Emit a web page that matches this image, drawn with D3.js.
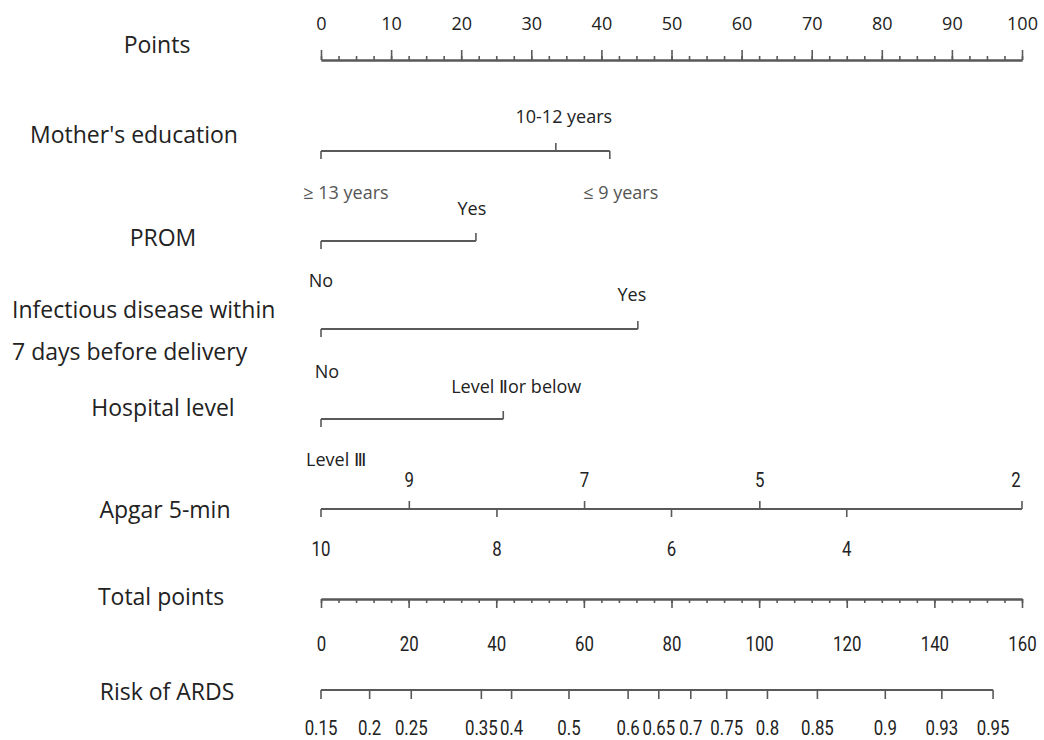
<!DOCTYPE html>
<html>
<head>
<meta charset="utf-8">
<script src="https://cdn.jsdelivr.net/npm/d3@7"></script>
<style>
  html, body { margin: 0; padding: 0; background: #fff; }
  svg { display: block; }
</style>
</head>
<body>
<svg id="chart" width="1044" height="740"></svg>
<script>
// ---------------- DATA ----------------
const pointsTickLabels = [0, 10, 20, 30, 40, 50, 60, 70, 80, 90, 100];

const motherEduLevels = ["≥ 13 years", "10-12 years", "≤ 9 years"];
const motherEduPoints = [0, 33.5, 41.2];

const promLevels = ["No", "Yes"];
const promPoints = [0, 22.1];

const infectLevels = ["No", "Yes"];
const infectPoints = [0, 45.2];

const hospitalLevels = ["Level Ⅲ", "Level Ⅱor below"];
const hospitalPoints = [0, 26.0];

const apgarValues = [10, 9, 8, 7, 6, 5, 4, 2];
const apgarPoints = [0, 12.6, 25.1, 37.6, 50.0, 62.6, 75.0, 100];

const totalTickLabels = [0, 20, 40, 60, 80, 100, 120, 140, 160];

const riskValues = [0.15, 0.2, 0.25, 0.35, 0.4, 0.5, 0.6, 0.65, 0.7, 0.75, 0.8, 0.85, 0.9, 0.93, 0.95];
const riskTotalPoints = [0, 11.1, 20.6, 36.6, 43.5, 56.6, 70.1, 77.1, 84.4, 92.6, 101.9, 113.3, 128.8, 141.7, 153.4];

const rowNames = ["Points", "Mother's education", "PROM", "Infectious disease within", "7 days before delivery",
                  "Hospital level", "Apgar 5-min", "Total points", "Risk of ARDS"];

// ---------------- LAYOUT / STYLE ----------------
const svg = d3.select("#chart");
const LINE = "#595959";
const TEXT = "#222";
const sansFont = "'Open Sans', 'Noto Sans', sans-serif";
const narrowFont = "Roboto, 'Noto Sans', sans-serif";
const NARROW_SIZE = 21;
const NARROW_SQUEEZE = "scale(0.8,1)";

const xPts = d3.scaleLinear().domain([0, 100]).range([321, 1022]);
const xTot = d3.scaleLinear().domain([0, 160]).range([321, 1022]);

// Row label layout
const rowLayout = [
  {x: 157, y: 45, anchor: "middle"},
  {x: 134, y: 135, anchor: "middle"},
  {x: 163, y: 238, anchor: "middle"},
  {x: 12, y: 310, anchor: "start"},
  {x: 12, y: 352, anchor: "start"},
  {x: 163, y: 408, anchor: "middle"},
  {x: 165, y: 510, anchor: "middle"},
  {x: 161, y: 597, anchor: "middle"},
  {x: 167, y: 692, anchor: "middle"}
];
svg.append("g").selectAll("text").data(rowNames).join("text")
  .attr("x", (d, i) => rowLayout[i].x)
  .attr("y", (d, i) => rowLayout[i].y)
  .attr("dy", "0.35em")
  .attr("text-anchor", (d, i) => rowLayout[i].anchor)
  .attr("font-family", sansFont)
  .attr("font-size", 23)
  .attr("fill", TEXT)
  .text(d => d);

// ---------- Points axis ----------
function styleAxis(g) {
  g.select(".domain").attr("stroke", LINE).attr("stroke-width", 2);
  g.selectAll(".tick line").attr("stroke", LINE).attr("stroke-width", 1.6);
}
const yPts = 60;
const minorPts = d3.range(0, 100.01, 2.5);
svg.append("g").attr("transform", `translate(0,${yPts})`)
  .call(d3.axisTop(xPts).tickValues(minorPts).tickSize(4).tickSizeOuter(0).tickFormat(""))
  .call(styleAxis);
const gPts = svg.append("g").attr("transform", `translate(0,${yPts})`)
  .call(d3.axisTop(xPts).tickValues(pointsTickLabels).tickSize(10).tickSizeOuter(0).tickPadding(20))
  .call(styleAxis);
gPts.selectAll(".tick text").attr("font-family", sansFont).attr("font-size", 18).attr("fill", TEXT);

// ---------- categorical rows ----------
// sides: -1 = label above (tick up), +1 = label below (tick down)
function catRow(y, pts, labels, sides, offsets, opts) {
  const g = svg.append("g");
  g.append("line")
    .attr("x1", xPts(d3.min(pts))).attr("x2", xPts(d3.max(pts)))
    .attr("y1", y).attr("y2", y)
    .attr("stroke", LINE).attr("stroke-width", 2);
  g.selectAll("line.t").data(pts).join("line").attr("class", "t")
    .attr("x1", d => xPts(d)).attr("x2", d => xPts(d))
    .attr("y1", y).attr("y2", (d, i) => y + sides[i] * 8)
    .attr("stroke", LINE).attr("stroke-width", 1.6);
  const t = g.selectAll("text").data(labels).join("text")
    .attr("text-anchor", "middle")
    .attr("dy", "0.35em")
    .attr("font-family", opts.font || sansFont)
    .attr("font-size", opts.size || 18)
    .attr("fill", (d, i) => (opts.colors ? opts.colors[i] : TEXT))
    .text(d => d);
  if (opts.squeeze) {
    t.attr("transform", (d, i) => `translate(${xPts(pts[i]) + offsets[i].dx},${y + offsets[i].dy}) ${opts.squeeze}`);
  } else {
    t.attr("x", (d, i) => xPts(pts[i]) + offsets[i].dx)
     .attr("y", (d, i) => y + offsets[i].dy);
  }
  return g;
}

catRow(151, motherEduPoints, motherEduLevels, [1, -1, 1],
  [{dx: 25, dy: 42}, {dx: 8, dy: -34}, {dx: 11, dy: 42}],
  {size: 18, colors: ["#555", TEXT, "#555"]});

catRow(241, promPoints, promLevels, [1, -1],
  [{dx: 0, dy: 40}, {dx: -4, dy: -32}], {size: 18});

catRow(329, infectPoints, infectLevels, [1, -1],
  [{dx: 6, dy: 43}, {dx: -6, dy: -34}], {size: 18});

catRow(419, hospitalPoints, hospitalLevels, [1, -1],
  [{dx: 15, dy: 41}, {dx: 13, dy: -32}], {size: 18});

// ---------- Apgar ----------
const apgarSides = apgarValues.map(v => (v % 2 === 1 || v === 2) ? -1 : 1);
catRow(509, apgarPoints, apgarValues, apgarSides,
  apgarValues.map((v, i) => ({dx: v === 2 ? -6 : 0, dy: apgarSides[i] < 0 ? -29 : 40})),
  {font: narrowFont, size: NARROW_SIZE, squeeze: NARROW_SQUEEZE});

// ---------- Total points ----------
const yTot = 599;
const minorTot = d3.range(0, 160.01, 4);
svg.append("g").attr("transform", `translate(0,${yTot})`)
  .call(d3.axisBottom(xTot).tickValues(minorTot).tickSize(4).tickSizeOuter(0).tickFormat(""))
  .call(styleAxis);
const gTot = svg.append("g").attr("transform", `translate(0,${yTot})`)
  .call(d3.axisBottom(xTot).tickValues(totalTickLabels).tickSize(9).tickSizeOuter(0).tickPadding(28))
  .call(styleAxis);
gTot.selectAll(".tick text")
  .attr("font-family", narrowFont).attr("font-size", NARROW_SIZE).attr("fill", TEXT)
  .attr("transform", NARROW_SQUEEZE);

// ---------- Risk ----------
const yRisk = 690;
const riskScale = d3.scaleOrdinal().domain(riskValues).range(riskTotalPoints.map(p => xTot(p)));
const gRisk = svg.append("g");
gRisk.append("line")
  .attr("x1", xTot(d3.min(riskTotalPoints))).attr("x2", xTot(d3.max(riskTotalPoints)))
  .attr("y1", yRisk).attr("y2", yRisk)
  .attr("stroke", LINE).attr("stroke-width", 2);
gRisk.selectAll("line.t").data(riskValues).join("line").attr("class", "t")
  .attr("x1", d => riskScale(d)).attr("x2", d => riskScale(d))
  .attr("y1", yRisk).attr("y2", yRisk + 9)
  .attr("stroke", LINE).attr("stroke-width", 1.6);
gRisk.selectAll("text").data(riskValues).join("text")
  .attr("transform", d => `translate(${riskScale(d)},${yRisk + 38}) ${NARROW_SQUEEZE}`)
  .attr("dy", "0.35em")
  .attr("text-anchor", "middle")
  .attr("font-family", narrowFont)
  .attr("font-size", NARROW_SIZE)
  .attr("fill", TEXT)
  .text(d => String(d));
</script>
</body>
</html>
